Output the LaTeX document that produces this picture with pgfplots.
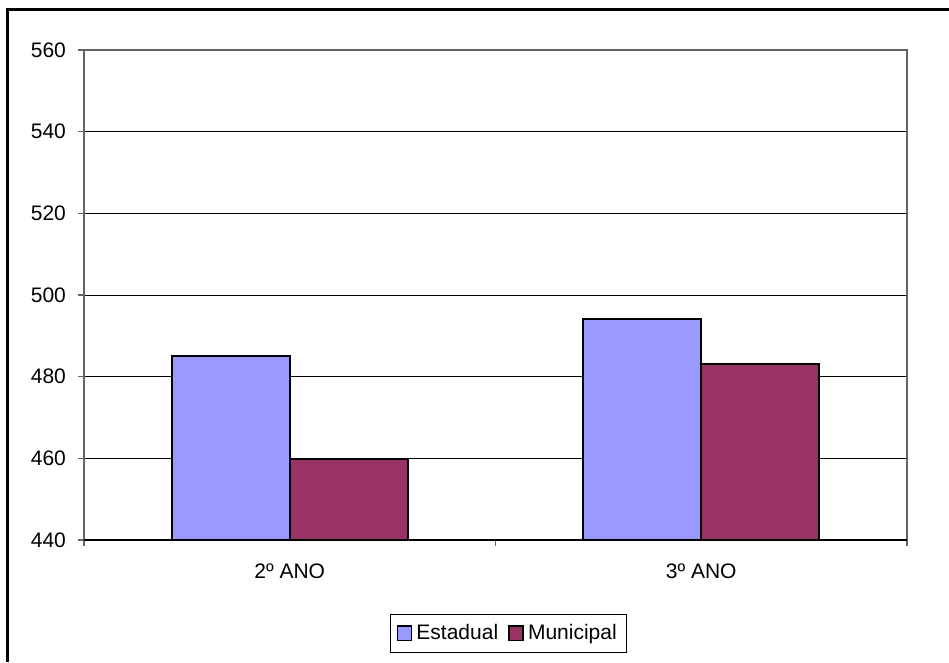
\documentclass[border=0pt]{standalone}
\usepackage{pgfplots}
\pgfplotsset{compat=1.18}
\usepackage{fontspec}
\setmainfont{Liberation Sans}
\definecolor{estadual}{RGB}{153,153,255}
\definecolor{municipal}{RGB}{153,51,102}
\definecolor{axgray}{RGB}{100,100,100}
\begin{document}
\begin{tikzpicture}
\begin{axis}[
    scale only axis,
    width=411.5pt, height=245pt,
    xmin=-0.5, xmax=1.5,
    ymin=440, ymax=560,
    ytick={440,460,...,560},
    xtick={-0.5,0.5,1.5},
    xticklabels={},
    extra x ticks={0,1},
    extra x tick labels={2º ANO,3º ANO},
    extra x tick style={major tick length=0pt, grid=none},
    major tick length=3pt,
    tick align=outside,
    tick style={axgray, line width=0.6pt},
    xtick pos=bottom, ytick pos=left,
    ymajorgrids,
    grid style={black, line width=0.5pt},
    axis line style={axgray, line width=0.8pt},
    ybar, bar width=0.2866,
    tick label style={font=\fontsize{10.5}{12}\selectfont},
    yticklabel style={xshift=-2.5pt},
    xticklabel style={yshift=-8.5pt},
    /pgf/number format/assume math mode=true,
    clip=false,
    legend style={at={(0.516,-0.151)}, anchor=north, legend columns=2,
        draw=black, line width=0.5pt, font=\fontsize{10.5}{12}\selectfont,
        inner sep=3pt, /tikz/every even column/.append style={column sep=3pt}},
    legend image code/.code={\draw[#1, draw=black, line width=0.8pt] (0cm,-0.12cm) rectangle (0.25cm,0.13cm);},
]
\addplot[fill=estadual, draw=black, line width=1pt, bar shift=-0.1433] coordinates {(0,485.0) (1,494.1)};
\addlegendentry{Estadual}
\addplot[fill=municipal, draw=black, line width=1pt, bar shift=0.1433] coordinates {(0,459.8) (1,483.1)};
\addlegendentry{Municipal}
\draw[black, line width=0.8pt] (rel axis cs:0,0) -- (rel axis cs:1,0);
\coordinate (bl) at (rel axis cs:-0.10207,-0.24898);
\coordinate (tr) at (rel axis cs:1.05103,1.10204);
\coordinate (fl) at (rel axis cs:-0.09235,1.08163);
\end{axis}
\draw[black, line width=1.5pt] (fl |- bl) -- (fl) -- (fl -| tr);
\pgfresetboundingbox
\useasboundingbox (bl) rectangle (tr);
\end{tikzpicture}
\end{document}
